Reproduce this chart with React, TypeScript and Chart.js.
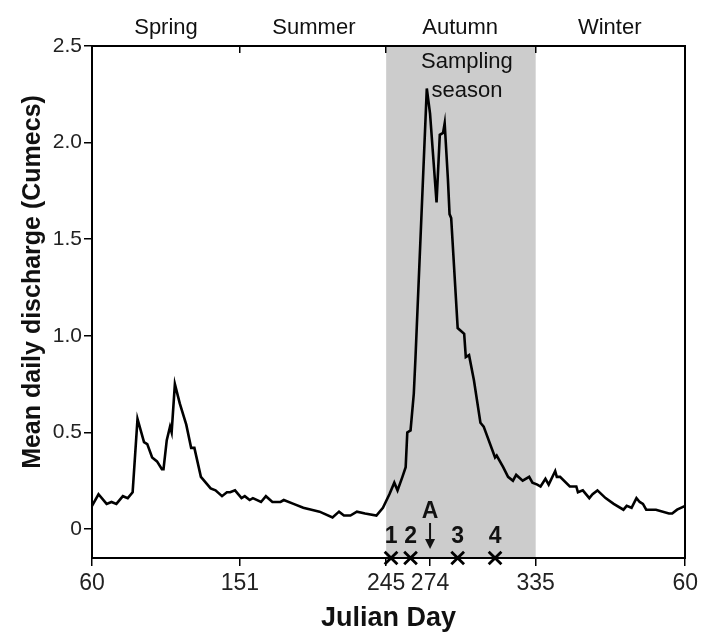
import React, { useEffect, useRef } from "react";
import { Chart, registerables } from "chart.js";

Chart.register(...registerables);

// Day index counted from Julian day 60 (start of spring) through to day 60 of the next year
const DAY = [
  0, 4, 9, 12, 15, 19, 22, 25, 28, 32, 34, 37, 40, 43, 44, 46, 48, 49, 51, 54, 58, 61, 63, 67, 73, 76,
  80, 83, 85, 88, 92, 94, 97, 99, 104, 107, 111, 116, 118, 124, 130, 140, 148, 152, 155, 159, 163, 168,
  175, 179, 183, 186, 188, 191, 193, 194, 196, 198, 199, 206, 208, 212, 214, 216, 217, 219, 220, 221,
  225, 229, 230, 232, 235, 239, 241, 248, 249, 253, 256, 259, 261, 265, 269, 271, 274, 276, 279, 281,
  285, 286, 288, 294, 298, 299, 302, 306, 308, 311, 316, 321, 327, 329, 332, 335, 337, 339, 341, 347,
  355, 357, 360, 365,
];
const DISCHARGE = [
  0.12, 0.18, 0.13, 0.14, 0.13, 0.17, 0.16, 0.19, 0.57, 0.45, 0.44, 0.37, 0.35, 0.31, 0.31, 0.46, 0.53,
  0.5, 0.75, 0.65, 0.54, 0.42, 0.42, 0.27, 0.21, 0.2, 0.17, 0.19, 0.19, 0.2, 0.16, 0.17, 0.15, 0.16,
  0.14, 0.17, 0.14, 0.14, 0.15, 0.13, 0.11, 0.09, 0.06, 0.09, 0.07, 0.07, 0.09, 0.08, 0.07, 0.11, 0.18,
  0.24, 0.2, 0.27, 0.32, 0.5, 0.51, 0.7, 0.88, 2.28, 2.15, 1.69, 2.04, 2.05, 2.1, 1.81, 1.63, 1.61,
  1.04, 1.01, 0.89, 0.9, 0.77, 0.55, 0.53, 0.37, 0.38, 0.32, 0.27, 0.25, 0.28, 0.25, 0.27, 0.24, 0.23,
  0.22, 0.26, 0.23, 0.3, 0.27, 0.27, 0.22, 0.22, 0.19, 0.2, 0.16, 0.18, 0.2, 0.16, 0.13, 0.1, 0.12,
  0.11, 0.16, 0.14, 0.13, 0.1, 0.1, 0.08, 0.08, 0.1, 0.12,
];

const Y_MIN = -0.15;
const Y_MAX = 2.5;
const Y_TICKS = [0, 0.5, 1, 1.5, 2, 2.5];
const Y_TITLE = "Mean daily discharge (Cumecs)";
const X_TITLE = "Julian Day";
const X_MIN = 0;
const X_MAX = 365;
const X_TICK_POS = [0, 91, 181, 208, 273, 365];
const X_TICK_LABELS = ["60", "151", "245", "274", "335", "60"];
const SEASON_POS = [0, 91, 181, 273, 365];
const SEASON_LABELS = ["Spring", "Summer", "Autumn", "Winter", ""];
const SHADE_START = 181;
const SHADE_END = 273;
const SHADE_LABEL = ["Sampling", "season"];
const SAMPLE_DAYS = [184, 196, 225, 248];
const SAMPLE_LABELS = ["1", "2", "3", "4"];
const ARROW_DAY = 208;
const ARROW_LABEL = "A";

const FONT = "'Liberation Sans', Arial, sans-serif";

const shadePlugin = {
  id: "shade",
  beforeDraw(chart: any) {
    const { ctx, chartArea, scales } = chart;
    ctx.save();
    ctx.fillStyle = "#ffffff";
    ctx.fillRect(0, 0, chart.width, chart.height);
    const x1 = scales.x.getPixelForValue(SHADE_START);
    const x2 = scales.x.getPixelForValue(SHADE_END);
    ctx.fillStyle = "#cccccc";
    ctx.fillRect(x1, chartArea.top, x2 - x1, chartArea.bottom - chartArea.top);
    ctx.restore();
  },
};

const annotationPlugin = {
  id: "annot",
  afterDatasetsDraw(chart: any) {
    const { ctx, chartArea, scales } = chart;
    const xs = scales.x;
    const bottom = chartArea.bottom;
    ctx.save();
    ctx.fillStyle = "#111";
    ctx.textAlign = "center";
    ctx.textBaseline = "middle";
    // y axis title, rotated
    ctx.save();
    ctx.translate(33, (chartArea.top + chartArea.bottom) / 2 - 20);
    ctx.rotate(-Math.PI / 2);
    ctx.font = `bold 25px ${FONT}`;
    ctx.fillText(Y_TITLE, 0, 0);
    ctx.restore();
    // Sampling season label
    const cx = (xs.getPixelForValue(SHADE_START) + xs.getPixelForValue(SHADE_END)) / 2;
    ctx.font = `22px ${FONT}`;
    ctx.fillText(SHADE_LABEL[0], cx + 6, chartArea.top + 16);
    ctx.fillText(SHADE_LABEL[1], cx + 6, chartArea.top + 45);
    // sample labels
    ctx.font = `bold 23px ${FONT}`;
    SAMPLE_DAYS.forEach((d, i) => {
      ctx.fillText(SAMPLE_LABELS[i], xs.getPixelForValue(d), bottom - 21);
    });
    // arrow A
    const ax = xs.getPixelForValue(ARROW_DAY);
    ctx.fillText(ARROW_LABEL, ax, bottom - 46);
    ctx.strokeStyle = "#111";
    ctx.lineWidth = 2;
    ctx.beginPath();
    ctx.moveTo(ax, bottom - 35);
    ctx.lineTo(ax, bottom - 16);
    ctx.stroke();
    ctx.beginPath();
    ctx.moveTo(ax - 5, bottom - 19);
    ctx.lineTo(ax + 5, bottom - 19);
    ctx.lineTo(ax, bottom - 9);
    ctx.closePath();
    ctx.fill();
    ctx.restore();
  },
};

export default function App() {
  const ref = useRef<HTMLCanvasElement>(null);
  useEffect(() => {
    document.body.style.margin = "0";
    document.body.style.overflow = "hidden";
    const canvas = ref.current!;
    const chart = new Chart(canvas, {
      type: "line",
      data: {
        datasets: [
          {
            label: "Mean daily discharge",
            data: DAY.map((d, i) => ({ x: d, y: DISCHARGE[i] })),
            borderColor: "#000",
            borderWidth: 2.6,
            pointRadius: 0,
            tension: 0,
            fill: false,
          },
          {
            type: "scatter",
            label: "Samples",
            data: SAMPLE_DAYS.map((d) => ({ x: d, y: Y_MIN })),
            pointStyle: "crossRot",
            pointRadius: 9,
            borderWidth: 2.8,
            borderColor: "#000",
            backgroundColor: "#000",
            clip: false,
          } as any,
        ],
      },
      options: {
        animation: false,
        responsive: false,
        devicePixelRatio: 1,
        layout: { padding: { top: 0, left: 0, right: 0, bottom: 0 } },
        plugins: { legend: { display: false }, tooltip: { enabled: false } },
        scales: {
          x: {
            type: "linear",
            position: "bottom",
            min: X_MIN,
            max: X_MAX,
            afterBuildTicks: (s: any) => {
              s.ticks = X_TICK_POS.map((v) => ({ value: v }));
            },
            afterFit: (s: any) => {
              s.height = 81;
            },
            ticks: {
              autoSkip: false,
              maxRotation: 0,
              padding: 4,
              color: "#222",
              font: { family: FONT, size: 23 },
              callback: (_v: any, i: number) => X_TICK_LABELS[i],
            },
            grid: { display: true, drawOnChartArea: false, drawTicks: true, tickLength: 8, color: "#000", lineWidth: 1.5 },
            border: { display: true, color: "#000", width: 2 },
            title: {
              display: true,
              text: X_TITLE,
              color: "#111",
              font: { family: FONT, size: 27, weight: "bold" },
              padding: { top: 0, bottom: 4 },
            },
          },
          xTop: {
            type: "linear",
            position: "top",
            min: X_MIN,
            max: X_MAX,
            afterBuildTicks: (s: any) => {
              s.ticks = SEASON_POS.map((v) => ({ value: v }));
            },
            afterFit: (s: any) => {
              s.height = 46;
            },
            ticks: {
              autoSkip: false,
              maxRotation: 0,
              padding: 12,
              labelOffset: 74,
              color: "#111",
              font: { family: FONT, size: 22 },
              callback: (_v: any, i: number) => SEASON_LABELS[i],
            },
            grid: { display: true, drawOnChartArea: false, drawTicks: true, tickLength: -7, color: "#000", lineWidth: 1.5 },
            border: { display: true, color: "#000", width: 2 },
          },
          y: {
            type: "linear",
            position: "left",
            min: Y_MIN,
            max: Y_MAX,
            afterBuildTicks: (s: any) => {
              s.ticks = Y_TICKS.map((v) => ({ value: v }));
            },
            afterFit: (s: any) => {
              s.width = 92;
            },
            ticks: {
              padding: 2,
              color: "#222",
              font: { family: FONT, size: 21 },
              callback: (v: any) => (v === 0 ? "0" : Number(v).toFixed(1)),
            },
            grid: { display: true, drawOnChartArea: false, drawTicks: true, tickLength: 8, color: "#000", lineWidth: 1.5 },
            border: { display: true, color: "#000", width: 2 },
          },
          yRight: {
            type: "linear",
            position: "right",
            min: Y_MIN,
            max: Y_MAX,
            afterFit: (s: any) => {
              s.width = 16;
            },
            ticks: { display: false },
            grid: { display: false, drawTicks: false },
            border: { display: true, color: "#000", width: 2 },
          },
        },
      } as any,
      plugins: [shadePlugin, annotationPlugin],
    });
    return () => chart.destroy();
  }, []);
  return <canvas ref={ref} width={702} height={639} style={{ display: "block" }} />;
}
